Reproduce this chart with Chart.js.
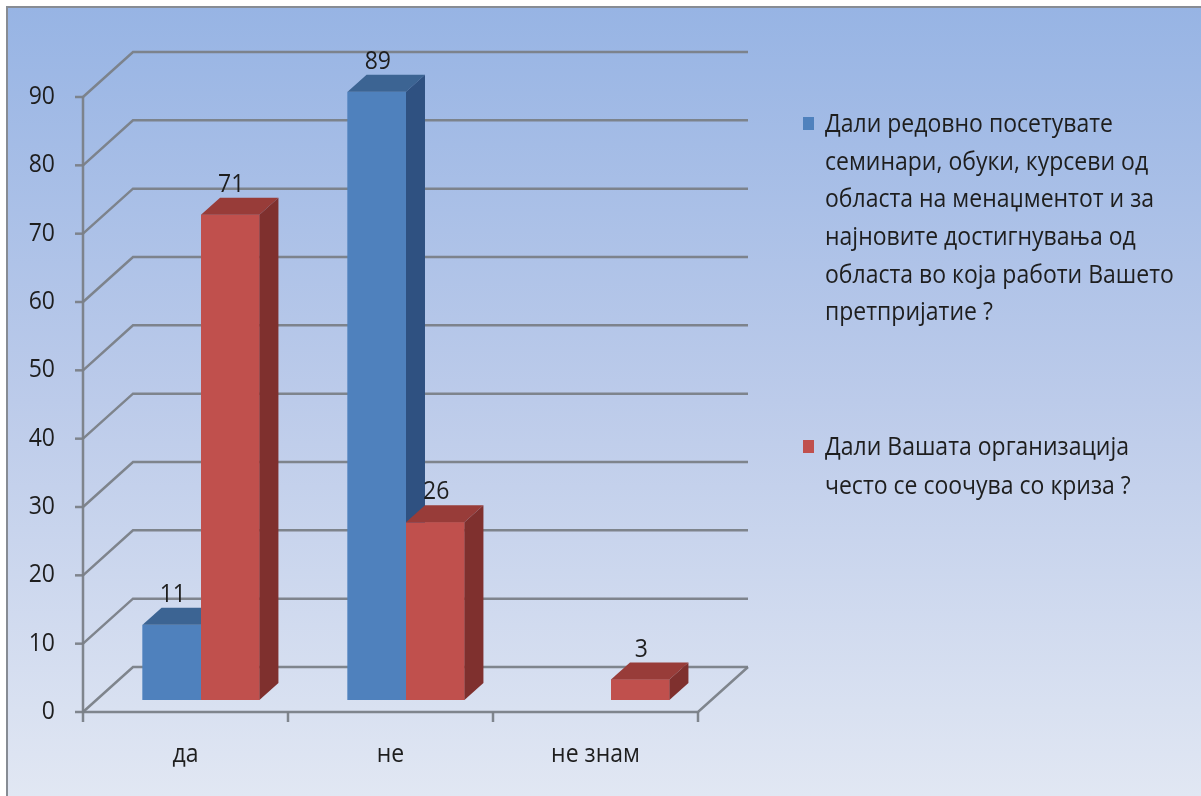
<!DOCTYPE html>
<html>
<head>
<meta charset="utf-8">
<script src="https://cdn.jsdelivr.net/npm/chart.js@4/dist/chart.umd.min.js"></script>
<style>
  html, body { margin: 0; padding: 0; background: #ffffff; }
  #wrap { position: relative; width: 1201px; height: 796px; }
</style>
</head>
<body>
<div id="wrap"><canvas id="chart"></canvas></div>
<script>
// Categories (answers)
const categories = ['да', 'не', 'не знам'];

// Survey question 1 (blue) and question 2 (red)
const seminarsValues = [11, 89, null];
const crisisValues = [71, 26, 3];

// Series names, broken into the lines shown in the legend
const seminarsName = [
  'Дали редовно посетувате',
  'семинари, обуки, курсеви од',
  'областа на менаџментот и за',
  'најновите достигнувања од',
  'областа во која работи Вашето',
  'претпријатие ?'
];
const crisisName = [
  'Дали Вашата организација',
  'често се соочува со криза ?'
];

// Value axis tick labels
const yTicks = [0, 10, 20, 30, 40, 50, 60, 70, 80, 90];

const FONT = '"Open Sans", "Noto Sans", sans-serif';
const TEXT_COLOR = '#1e1e1e';
const CONDENSE = 0.92;

// Face colours for the 3D columns: front, top, side
const faces = {
  blue: { front: '#4f81bd', top: '#3c6493', side: '#2f5181' },
  red:  { front: '#c0504d', top: '#983c39', side: '#7f302e' }
};

// Depth of a column and the offsets of the front / back planes of the box
const DEPTH = { dx: 19, dy: 17 };
const FRONT = { dx: -15.5, dy: 12 };
const BACK = { dx: 34.5, dy: -33 };

// Slightly narrowed text, to keep the legend lines inside the frame
function drawText(ctx, text, x, y, align) {
  ctx.save();
  ctx.translate(x, y);
  ctx.scale(CONDENSE, 1);
  ctx.textAlign = align;
  ctx.fillText(text, 0, 0);
  ctx.restore();
}

function drawColumn(ctx, el, f) {
  const p = el.getProps(['x', 'y', 'base', 'width'], true);
  const x1 = p.x - p.width / 2, x2 = p.x + p.width / 2;
  const top = p.y, bot = p.base;
  ctx.fillStyle = f.front;
  ctx.fillRect(x1, top, x2 - x1, bot - top);
  ctx.fillStyle = f.top;
  ctx.beginPath();
  ctx.moveTo(x1, top);
  ctx.lineTo(x2, top);
  ctx.lineTo(x2 + DEPTH.dx, top - DEPTH.dy);
  ctx.lineTo(x1 + DEPTH.dx, top - DEPTH.dy);
  ctx.closePath();
  ctx.fill();
  ctx.fillStyle = f.side;
  ctx.beginPath();
  ctx.moveTo(x2, top);
  ctx.lineTo(x2 + DEPTH.dx, top - DEPTH.dy);
  ctx.lineTo(x2 + DEPTH.dx, bot - DEPTH.dy);
  ctx.lineTo(x2, bot);
  ctx.closePath();
  ctx.fill();
}

const framePlugin = {
  id: 'frame3d',
  beforeDraw(chart) {
    const ctx = chart.ctx;
    const W = chart.width, H = chart.height;
    ctx.save();
    ctx.fillStyle = '#ffffff';
    ctx.fillRect(0, 0, W, H);
    const g = ctx.createLinearGradient(0, 7, 0, H);
    g.addColorStop(0, '#97b4e4');
    g.addColorStop(0.5, '#bccbea');
    g.addColorStop(1, '#e1e7f3');
    ctx.fillStyle = g;
    ctx.fillRect(7, 7, W - 7, H - 7);
    ctx.strokeStyle = '#878c94';
    ctx.lineWidth = 2;
    ctx.beginPath();
    ctx.moveTo(7, H + 5);
    ctx.lineTo(7, 7);
    ctx.lineTo(W + 5, 7);
    ctx.stroke();
    ctx.restore();
  },
  beforeDatasetsDraw(chart) {
    const ctx = chart.ctx;
    const x = chart.scales.x, y = chart.scales.y;
    const L = chart.chartArea.left, R = chart.chartArea.right;
    ctx.save();
    ctx.strokeStyle = 'rgba(122,127,135,0.95)';
    ctx.lineWidth = 2.5;
    // back wall gridlines with their diagonals on the side wall
    yTicks.forEach(v => {
      const py = y.getPixelForValue(v);
      ctx.beginPath();
      ctx.moveTo(L + FRONT.dx, py + FRONT.dy);
      ctx.lineTo(L + BACK.dx, py + BACK.dy);
      ctx.lineTo(R + BACK.dx, py + BACK.dy);
      ctx.stroke();
    });
    // floor: front edge and right diagonal
    const p0 = y.getPixelForValue(0);
    ctx.beginPath();
    ctx.moveTo(L + FRONT.dx, p0 + FRONT.dy);
    ctx.lineTo(R + FRONT.dx, p0 + FRONT.dy);
    ctx.lineTo(R + BACK.dx, p0 + BACK.dy);
    ctx.stroke();
    // value axis line
    const pTop = y.getPixelForValue(yTicks[yTicks.length - 1]);
    ctx.beginPath();
    ctx.moveTo(L + FRONT.dx, p0 + FRONT.dy);
    ctx.lineTo(L + FRONT.dx, pTop + FRONT.dy);
    ctx.stroke();
    // value axis tick marks and labels
    ctx.fillStyle = TEXT_COLOR;
    ctx.font = '25px ' + FONT;
    ctx.textBaseline = 'middle';
    yTicks.forEach(v => {
      const py = y.getPixelForValue(v) + FRONT.dy;
      ctx.beginPath();
      ctx.moveTo(L + FRONT.dx - 8, py);
      ctx.lineTo(L + FRONT.dx, py);
      ctx.stroke();
      drawText(ctx, String(v), L + FRONT.dx - 28, py, 'right');
    });
    // category boundaries and labels
    const n = categories.length;
    const step = (R - L) / n;
    for (let i = 0; i <= n; i++) {
      const px = L + step * i + FRONT.dx;
      ctx.beginPath();
      ctx.moveTo(px, p0 + FRONT.dy);
      ctx.lineTo(px, p0 + FRONT.dy + 10);
      ctx.stroke();
    }
    categories.forEach((c, i) => {
      drawText(ctx, c, x.getPixelForValue(i) + FRONT.dx, p0 + FRONT.dy + 43, 'center');
    });
    ctx.restore();
  },
  afterDatasetsDraw(chart) {
    const ctx = chart.ctx;
    const datasets = chart.data.datasets;
    ctx.save();
    // repaint the columns left to right so nearer faces overlap correctly
    categories.forEach((c, i) => {
      datasets.forEach((ds, di) => {
        const v = ds.data[i];
        if (v === null || v === undefined) return;
        const el = chart.getDatasetMeta(di).data[i];
        drawColumn(ctx, el, faces[ds.faceKey]);
      });
    });
    // value labels
    ctx.fillStyle = TEXT_COLOR;
    ctx.font = '25px ' + FONT;
    ctx.textBaseline = 'alphabetic';
    datasets.forEach((ds, di) => {
      const meta = chart.getDatasetMeta(di);
      meta.data.forEach((el, i) => {
        const v = ds.data[i];
        if (v === null || v === undefined) return;
        const p = el.getProps(['x', 'y'], true);
        drawText(ctx, String(v), p.x + 1, p.y - DEPTH.dy - 6, 'center');
      });
    });
    // legend
    const legendItems = [
      { lines: seminarsName, color: faces.blue.front, y: 125, gap: 37.6 },
      { lines: crisisName, color: faces.red.front, y: 448, gap: 39 }
    ];
    ctx.textBaseline = 'middle';
    legendItems.forEach(item => {
      ctx.fillStyle = item.color;
      ctx.fillRect(803, item.y - 8, 11, 13);
      ctx.fillStyle = TEXT_COLOR;
      item.lines.forEach((t, k) => {
        drawText(ctx, t, 825, item.y + k * item.gap, 'left');
      });
    });
    ctx.restore();
  }
};

new Chart(document.getElementById('chart'), {
  type: 'bar',
  data: {
    labels: categories,
    datasets: [
      {
        label: seminarsName.join(' '),
        data: seminarsValues,
        backgroundColor: faces.blue.front,
        faceKey: 'blue'
      },
      {
        label: crisisName.join(' '),
        data: crisisValues,
        backgroundColor: faces.red.front,
        faceKey: 'red'
      }
    ]
  },
  options: {
    responsive: true,
    maintainAspectRatio: false,
    animation: false,
    events: [],
    layout: { padding: { left: 98.5, right: 487.5, top: 85, bottom: 96 } },
    datasets: {
      bar: { categoryPercentage: 0.57, barPercentage: 1.0, borderWidth: 0 }
    },
    scales: {
      x: { display: false },
      y: { display: false, min: 0, max: 90 }
    },
    plugins: {
      legend: { display: false },
      tooltip: { enabled: false }
    }
  },
  plugins: [framePlugin]
});
</script>
</body>
</html>
